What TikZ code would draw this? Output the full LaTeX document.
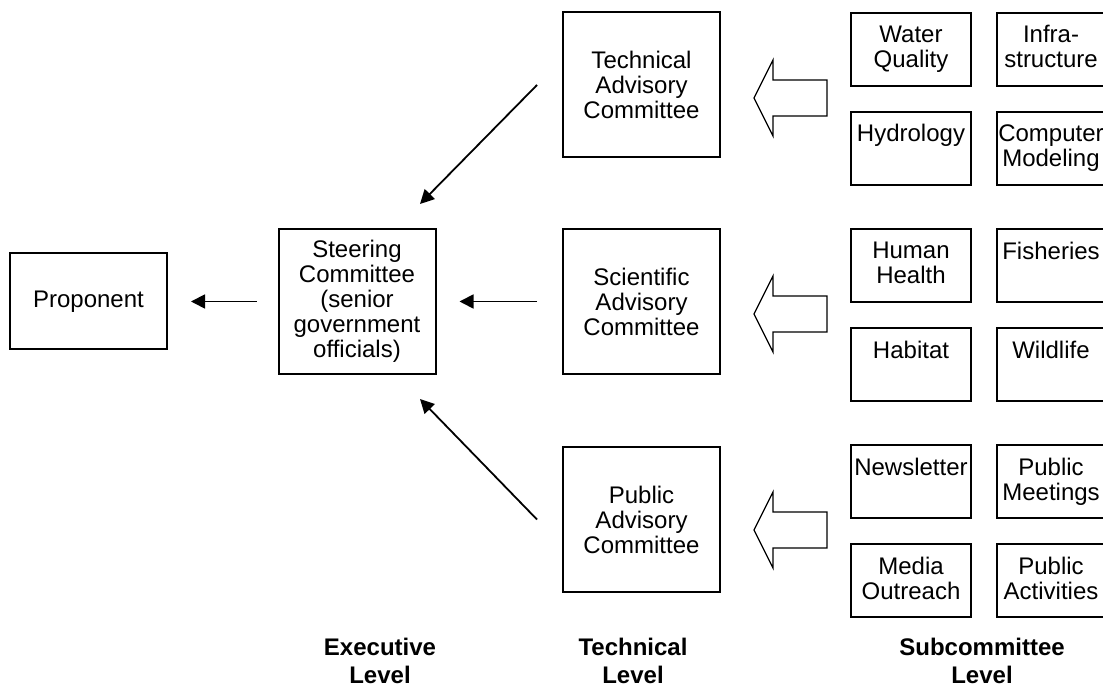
\documentclass[tikz,border=0pt]{standalone}
\usepackage{fontspec}
\setmainfont{Liberation Sans}
\usetikzlibrary{arrows.meta,positioning}
\newcommand{\subtext}[2][58pt]{\parbox[c][24pt][t]{#1}{\centering #2}}
\newcommand{\blockarr}[1]{%
  \draw[barr] (#1) -- ++(19,-38) -- ++(0,20) -- ++(54,0) -- ++(0,36) -- ++(-54,0) -- ++(0,20) -- cycle;}
\tikzset{
  combox/.style={draw, line width=1pt, minimum width=78.5pt, minimum height=72.5pt,
    align=center, inner sep=2pt, font=\fontsize{12}{12.5}\selectfont},
  propbox/.style={combox, minimum height=48pt},
  subbox/.style={draw, line width=1pt, minimum width=60pt, minimum height=36.5pt,
    inner sep=0pt, font=\fontsize{12}{12.5}\selectfont},
  edgebox/.style={subbox, minimum width=54pt},
  lvl/.style={font=\fontsize{12}{14}\selectfont\bfseries, align=center, anchor=north, inner sep=0pt},
  arr/.style={-{Triangle[length=7pt,width=7pt]}, line width=0.9pt},
  barr/.style={line width=0.6pt, line join=miter},
}

\begin{document}
\begin{tikzpicture}[x=0.5pt,y=-0.5pt]
\useasboundingbox (0,0) rectangle (1103,688);
% executive level
\node[propbox] (prop) at (88.5,301.5) {Proponent};
\node[combox] (steer) at (357,301.5) {Steering\\Committee\\(senior\\government\\officials)};
% technical level
\node[combox] (tech) at (641.5,85) {Technical\\Advisory\\Committee};
\node[combox] (sci) at (641.5,301.5) {Scientific\\Advisory\\Committee};
\node[combox] (pub) at (641.5,519.5) {Public\\Advisory\\Committee};
% subcommittees
\node[subbox] (wq) at (911,49.5) {\subtext{Water\\Quality}};
\node[edgebox, right=12pt of wq] (infra) {\subtext[53pt]{Infra-\\structure}};
\node[subbox, below=12pt of wq] (hyd) {\subtext{Hydrology}};
\node[edgebox, right=12pt of hyd] (comp) {\subtext[53pt]{Computer\\Modeling}};
\node[subbox] (health) at (911,266) {\subtext{Human\\Health}};
\node[edgebox, right=12pt of health] (fish) {\subtext[53pt]{Fisheries}};
\node[subbox, below=12pt of health] (hab) {\subtext{Habitat}};
\node[edgebox, right=12pt of hab] (wild) {\subtext[53pt]{Wildlife}};
\node[subbox] (news) at (911,482) {\subtext{Newsletter}};
\node[edgebox, right=12pt of news] (meet) {\subtext[53pt]{Public\\Meetings}};
\node[subbox, below=12pt of news] (media) {\subtext{Media\\Outreach}};
\node[edgebox, right=12pt of media] (act) {\subtext[53pt]{Public\\Activities}};
% block arrows
\coordinate (techtip) at (754,98);
\coordinate (scitip) at (754,314);
\coordinate (pubtip) at (754,530);
\blockarr{techtip}
\blockarr{scitip}
\blockarr{pubtip}
% connectors
\coordinate (techtail) at ([xshift=-12.5pt]tech.west);
\coordinate (steertop) at ([xshift=31.5pt,yshift=12pt]steer.north);
\coordinate (pubtail) at ([xshift=-12.5pt]pub.west);
\coordinate (steerbot) at ([xshift=31.5pt,yshift=-12pt]steer.south);
\draw[arr] (techtail) -- (steertop);
\draw[arr] (pubtail) -- (steerbot);
\draw[arr, shorten <=12.5pt, shorten >=11.5pt] (sci.west) -- (steer.east);
\draw[arr, shorten <=10.5pt, shorten >=11.5pt] (steer.west) -- (prop.east);
% level labels
\node[lvl] (execlvl) at (380,638) {Executive\\Level};
\node[lvl] (techlvl) at (633,638) {Technical\\Level};
\node[lvl] (sublvl) at (982,638) {Subcommittee\\Level};
\end{tikzpicture}
\end{document}
